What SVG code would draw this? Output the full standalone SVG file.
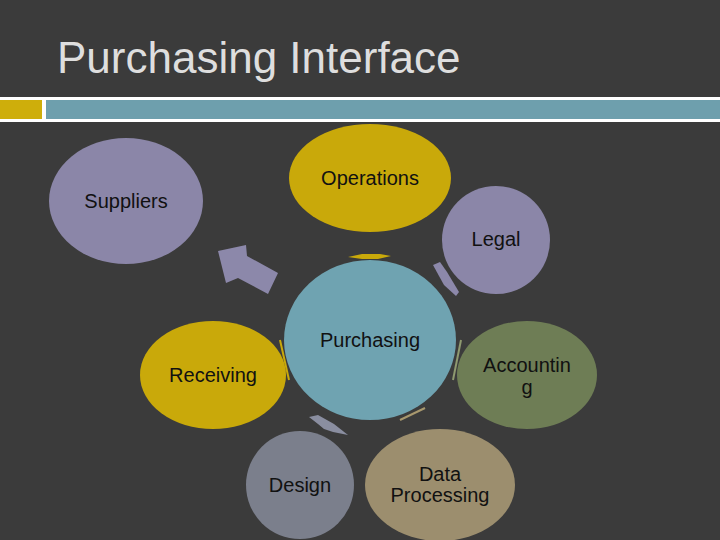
<svg xmlns="http://www.w3.org/2000/svg" width="720" height="540" viewBox="0 0 720 540">
<style>
.lbl{font-family:"Liberation Sans",Arial,sans-serif;font-size:20px;fill:#111;text-anchor:middle}
.title{font-family:"Liberation Sans",Arial,sans-serif;font-size:44px;fill:#dedede}
</style>
<rect width="720" height="540" fill="#3b3b3b"/>
<text class="title" x="57" y="73">Purchasing Interface</text>
<rect x="0" y="97" width="720" height="25" fill="#ffffff"/>
<rect x="0" y="100" width="42" height="19" fill="#ceae0b"/>
<rect x="46" y="100" width="674" height="19" fill="#6e9fad"/>
<g id="connectors">
<polygon points="218,251 246,245 247,256 278,273 268,294 238,278 226,283" fill="#8c88aa"/>
<polygon points="348,257 362,254 380,254 391,256 378,259 362,259" fill="#c9a90a"/>
<polygon points="433,265 440,262 447,272 459,292 456,296 444,285 439,276" fill="#8c88aa"/>
<line x1="280" y1="340" x2="289" y2="380" stroke="#c9a90a" stroke-width="2"/>
<line x1="461" y1="340" x2="453" y2="380" stroke="#8f9a70" stroke-width="2"/>
<polygon points="309,417 318,415 334,424 348,435 333,432 324,429 318,424" fill="#8a8ea0"/>
<line x1="400" y1="420" x2="425" y2="408" stroke="#a8986e" stroke-width="2"/>
</g>
<g id="suppliers"><ellipse cx="126" cy="201" rx="77" ry="63" fill="#8b86a8"/><text class="lbl" x="126" y="208">Suppliers</text></g>
<g id="operations"><ellipse cx="370" cy="178" rx="81" ry="54" fill="#c9a90a"/><text class="lbl" x="370" y="185">Operations</text></g>
<g id="legal"><circle cx="496" cy="240" r="54" fill="#8b86a8"/><text class="lbl" x="496" y="246">Legal</text></g>
<g id="purchasing"><ellipse cx="370" cy="340" rx="86" ry="80" fill="#6fa3b1"/><text class="lbl" x="370" y="347">Purchasing</text></g>
<g id="receiving"><ellipse cx="213" cy="375" rx="73" ry="54" fill="#c9a90a"/><text class="lbl" x="213" y="382">Receiving</text></g>
<g id="accounting"><ellipse cx="527" cy="375" rx="70" ry="54" fill="#6e7d55"/><text class="lbl" x="527" y="372">Accountin</text><text class="lbl" x="527" y="394">g</text></g>
<g id="design"><circle cx="300" cy="485" r="54" fill="#7b7f8c"/><text class="lbl" x="300" y="492">Design</text></g>
<g id="dataprocessing"><ellipse cx="440" cy="485" rx="75" ry="56" fill="#9c8e6e"/><text class="lbl" x="440" y="481">Data</text><text class="lbl" x="440" y="502">Processing</text></g>
</svg>
